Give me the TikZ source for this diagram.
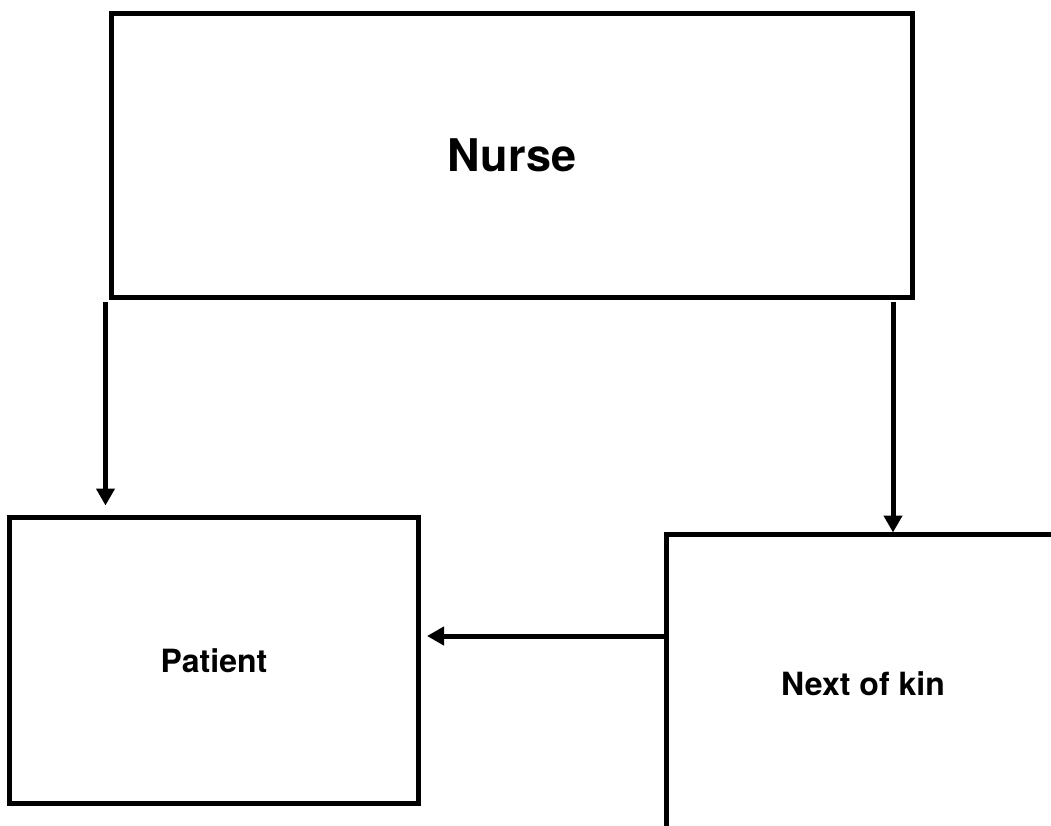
\documentclass[tikz,border=0pt]{standalone}
\usepackage{fontspec}
\setmainfont{TeX Gyre Heros}
\usetikzlibrary{arrows.meta}

\begin{document}
\begin{tikzpicture}[x=1pt,y=-1pt,>={Triangle[width=18pt,length=17pt]},
  box/.style={draw,line width=5pt,inner sep=0pt,outer sep=0pt},
  link/.style={->,line width=5pt}]
 \useasboundingbox (0,0) rectangle (1051,825);
 \clip (0,0) rectangle (1051,825); %右端と下端で切れる
 \node[box,minimum width=801pt,minimum height=284pt] (nurse) at (512,155.5) {\bfseries\fontsize{45}{54}\selectfont Nurse};
 \node[box,minimum width=409pt,minimum height=286pt] (patient) at (214,660.5) {\bfseries\fontsize{32}{38}\selectfont Patient};
 \node[box,minimum width=440pt,minimum height=340pt] (kin) at (886,704.5) {}; %枠だけ
 \node (kintext) at (863,683.5) {\bfseries\fontsize{32}{38}\selectfont Next of kin};
 \draw[link] ([xshift=-6pt,yshift=-4pt]nurse.south west) -- ([xshift=96pt,yshift=12pt]patient.north west); %Nurse→Patient
 \draw[link] ([xshift=-19.5pt,yshift=-4pt]nurse.south east) -- ([xshift=227pt,yshift=2pt]kin.north west); %Nurse→Next of kin
 \draw[link] ([yshift=-101.5pt]kin.north west) -- ([xshift=8.5pt,yshift=24.5pt]patient.east); %Next of kin→Patient
\end{tikzpicture}
\end{document}
